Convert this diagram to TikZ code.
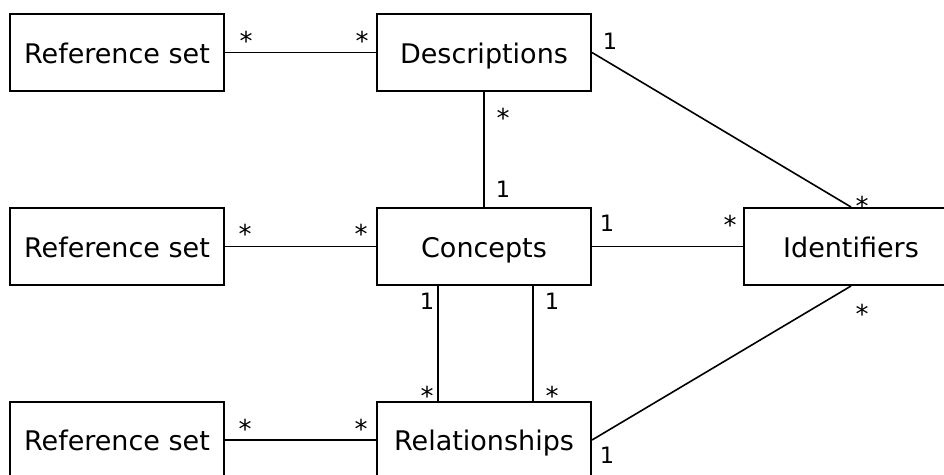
\documentclass[tikz,border=0pt]{standalone}
\usepackage{fontspec}
\setmainfont{DejaVu Sans}
\usetikzlibrary{calc}
\begin{document}
\begin{tikzpicture}[x=1pt,y=-1pt,
  entity/.style={draw,line width=2pt,minimum width=214pt,minimum height=77pt,inner sep=0pt,
    text height=22pt,text depth=1pt,font=\fontsize{27}{30}\selectfont},
  conn/.style={line width=1.6pt},
  mult/.style={anchor=base,inner sep=0pt,font=\fontsize{22.5}{25}\selectfont},
  multstar/.style={anchor=base,inner sep=0pt,font=\fontsize{26}{28}\selectfont}]
\useasboundingbox (0,0) rectangle (944,474);
\clip (0,0) rectangle (944,474);
\fill[white] (0,0) rectangle (944,474);
\node[entity] (ref1) at (117,52.5) {Reference set};
\node[entity] (desc) at (484,52.5) {Descriptions};
\node[entity] (ref2) at (117,246.5) {Reference set};
\node[entity] (conc) at (484,246.5) {Concepts};
\node[entity] (ident) at (851,246.5) {Identifiers};
\node[entity] (ref3) at (117,440) {Reference set};
\node[entity] (rel) at (484,440) {Relationships};
\draw[conn] (ref1) -- (desc);
\draw[conn] (ref2) -- (conc);
\draw[conn] (ref3) -- (rel);
\draw[conn] (desc.south) -- (conc.north);
\draw[conn] (desc.east) -- (ident.north);
\draw[conn] (conc) -- (ident);
\draw[conn] (rel.east) -- (ident.south);
\draw[conn] ([xshift=-46pt]conc.south) -- ([xshift=-46pt]rel.north);
\draw[conn] ([xshift=49pt]conc.south) -- ([xshift=49pt]rel.north);
% multiplicities
\node[multstar] (m1) at (246,50) {*};
\node[multstar] (m2) at (362,50) {*};
\node[mult] (m3) at (610,49) {1};
\node[multstar] (m4) at (503,127) {*};
\node[mult] (m5) at (503,197) {1};
\node[multstar] (m6) at (862,215) {*};
\node[multstar] (m7) at (245,243) {*};
\node[multstar] (m8) at (361,243) {*};
\node[mult] (m9) at (607,231) {1};
\node[multstar] (m10) at (730,234) {*};
\node[multstar] (m11) at (862,323) {*};
\node[mult] (m12) at (427,309) {1};
\node[mult] (m13) at (552,309) {1};
\node[multstar] (m14) at (427,405) {*};
\node[multstar] (m15) at (552,405) {*};
\node[mult] (m16) at (607,463) {1};
\node[multstar] (m17) at (245,438) {*};
\node[multstar] (m18) at (361,438) {*};
\end{tikzpicture}
\end{document}
